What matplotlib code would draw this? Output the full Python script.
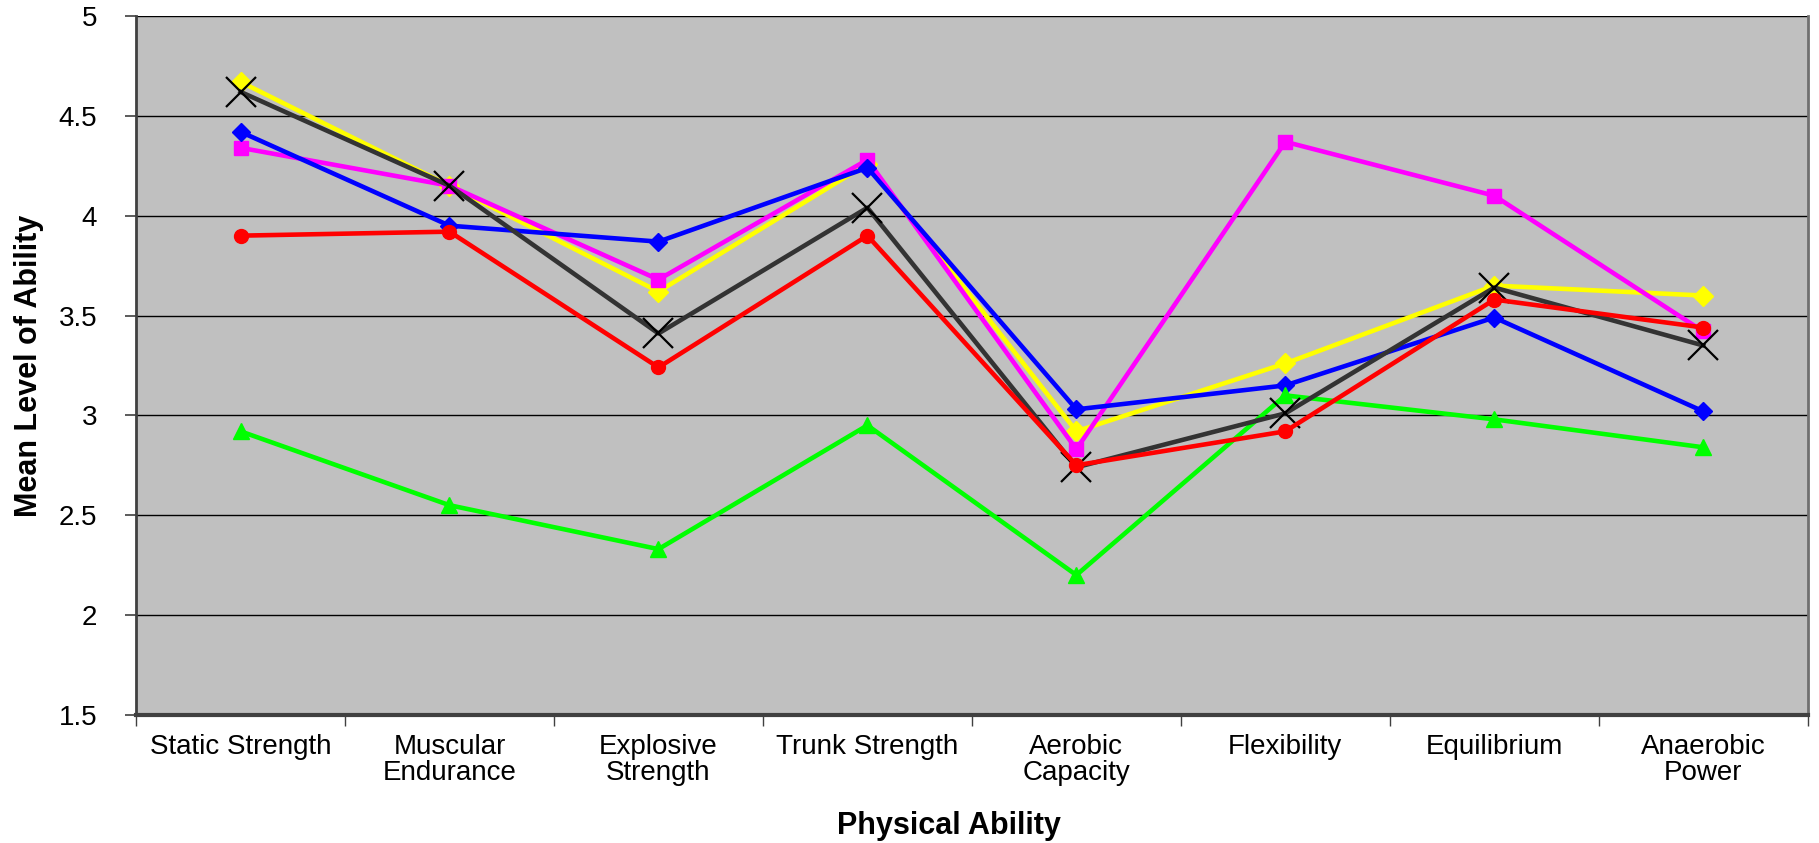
import matplotlib
matplotlib.use("Agg")
import matplotlib.pyplot as plt
from matplotlib import font_manager
from matplotlib.ticker import FixedLocator, NullFormatter

abilities = ["Static Strength", "Muscular\nEndurance", "Explosive\nStrength",
             "Trunk Strength", "Aerobic\nCapacity", "Flexibility",
             "Equilibrium", "Anaerobic\nPower"]

# mean ability ratings per group
yellow_vals = [4.67, 4.15, 3.62, 4.26, 2.92, 3.26, 3.65, 3.60]
magenta_vals = [4.34, 4.15, 3.68, 4.28, 2.83, 4.37, 4.10, 3.42]
blue_vals = [4.42, 3.95, 3.87, 4.24, 3.03, 3.15, 3.49, 3.02]
green_vals = [2.92, 2.55, 2.33, 2.95, 2.20, 3.10, 2.98, 2.84]
gray_vals = [4.62, 4.15, 3.41, 4.04, 2.74, 3.01, 3.64, 3.35]
red_vals = [3.90, 3.92, 3.24, 3.90, 2.75, 2.92, 3.58, 3.44]

names = {f.name for f in font_manager.fontManager.ttflist}
narrow = "Liberation Sans Narrow" if "Liberation Sans Narrow" in names else "Liberation Sans"
plt.rcParams["font.family"] = ["Liberation Sans", "DejaVu Sans"]

fig = plt.figure(figsize=(18.19, 8.43), dpi=100)
ax = fig.add_axes([0.0748, 0.152, 0.919, 0.829])
ax.set_facecolor("#C0C0C0")

x = list(range(len(abilities)))
ax.plot(x, yellow_vals, color="#FFFF00", lw=3.3, marker="D", ms=10, zorder=3)
ax.plot(x, magenta_vals, color="#FF00FF", lw=3.3, marker="s", ms=10, zorder=3)
ax.plot(x, blue_vals, color="#0000FF", lw=3.3, marker="D", ms=9, zorder=3)
ax.plot(x, green_vals, color="#00FF00", lw=3.3, marker="^", ms=11, zorder=3)
ax.plot(x, gray_vals, color="#333333", lw=3.3, marker="x", ms=21, mew=1.6,
        mec="black", zorder=3)
ax.plot(x, red_vals, color="#FF0000", lw=3.3, marker="o", ms=10, zorder=3)

ax.set_xlim(-0.5, len(abilities) - 0.5)
ax.set_ylim(1.5, 5)
ax.set_yticks([1.5, 2, 2.5, 3, 3.5, 4, 4.5, 5])
ax.set_yticklabels(["1.5", "2", "2.5", "3", "3.5", "4", "4.5", "5"])
ax.yaxis.grid(True, color="black", lw=1)
ax.set_axisbelow(True)

ax.set_xticks(x)
ax.set_xticklabels(abilities, fontsize=20, linespacing=1.0)
ax.tick_params(axis="x", which="major", length=0, pad=14)
ax.xaxis.set_minor_locator(FixedLocator([i - 0.5 for i in range(len(abilities) + 1)]))
ax.xaxis.set_minor_formatter(NullFormatter())
ax.tick_params(axis="x", which="minor", length=8, width=1, color="#404040")
ax.tick_params(axis="y", length=8, width=1.2, color="#404040", labelsize=20, pad=20)

for side in ("left", "bottom"):
    ax.spines[side].set_color("#404040")
ax.spines["left"].set_linewidth(2)
ax.spines["bottom"].set_linewidth(3)
ax.spines["right"].set_color("#707070")
ax.spines["right"].set_linewidth(2)
ax.spines["top"].set_visible(False)

ax.set_ylabel("Mean Level of Ability", fontsize=22, fontweight="bold",
              family=[narrow, "DejaVu Sans"], va="center")
ax.yaxis.set_label_coords(-0.064, 0.5)
ax.set_xlabel("Physical Ability", fontsize=22, fontweight="bold", va="center")
ax.xaxis.set_label_coords(0.486, -0.159)

fig.savefig("out.png", dpi=100)
